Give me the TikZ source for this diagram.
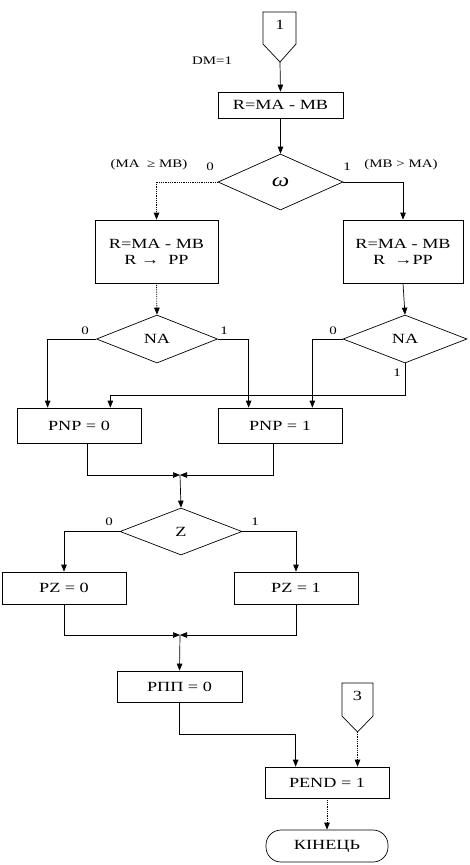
\documentclass[tikz,border=0pt]{standalone}
\usepackage{fontspec}
\setmainfont{Liberation Serif}[FakeStretch=1.3]
\usetikzlibrary{shapes.geometric,arrows.meta}
\tikzset{
  every node/.style={font=\fontsize{14}{16}\selectfont, inner sep=0pt},
  procbox/.style={draw, rectangle, line width=0.7pt, align=center},
  decis/.style={draw, diamond, line width=0.7pt, aspect=2.2},
  termbox/.style={draw, rectangle, rounded corners=15pt, line width=0.7pt},
  lbl/.style={font=\fontsize{11.5}{13}\selectfont},
  flow/.style={line width=0.7pt, -{Triangle[length=7pt,width=5.5pt]}},
  dflow/.style={line width=0.8pt, densely dotted, -{Triangle[length=7pt,width=5.5pt]}},
  conn/.style={draw, line width=0.7pt}
}
\begin{document}
\begin{tikzpicture}[x=1pt,y=-1pt]
\useasboundingbox (0,0) rectangle (470,865);

% connector 1
\draw[conn] (263,12) -- (296,12) -- (296,44) -- (280,62) -- (263,44) -- cycle;
\node (c1) at (280,25) {1};
\coordinate (c1tip) at (280,62);
\node[lbl] (dm) at (212,61) {DM=1};

\node[procbox, minimum width=125pt, minimum height=26pt] (b1) at (280.5,105) {R=MA - MB};

\node[decis, minimum width=125pt, minimum height=56pt] (w) at (280.5,182)
  {\fontsize{19}{19}\selectfont\textit{ω}};
\node[lbl] (lw1) at (149,165) {(MA \ ≥ MB)};
\node[lbl] (lw0) at (210,167) {0};
\node[lbl] (lw2) at (347,167) {1};
\node[lbl] (lw3) at (401,165) {(MB > MA)};

\node[procbox, minimum width=123pt, minimum height=63pt] (bL) at (156.5,251.5)
  {R=MA - MB\\R → \ PP};
\node[procbox, minimum width=120pt, minimum height=63pt] (bR) at (403,251.5)
  {R=MA - MB\\R \ →PP};

\node[decis, minimum width=121pt, minimum height=48pt] (naL) at (157,339) {NA};
\node[decis, minimum width=124pt, minimum height=48pt] (naR) at (405,339) {NA};
\node[lbl] (l1) at (85,331) {0};
\node[lbl] (l2) at (224,331) {1};
\node[lbl] (l3) at (333,331) {0};
\node[lbl] (l4) at (397,373) {1};

\node[procbox, minimum width=124pt, minimum height=35pt] (p0) at (79,425.5) {PNP = 0};
\node[procbox, minimum width=124pt, minimum height=35pt] (p1) at (280,425.5) {PNP = 1};

\coordinate (m1) at (180,475);

\node[decis, minimum width=122pt, minimum height=47pt] (z) at (181,531.5) {Z};
\node[lbl] (l5) at (109,522) {0};
\node[lbl] (l6) at (255,522) {1};

\node[procbox, minimum width=124pt, minimum height=32pt] (pz0) at (64,588) {PZ = 0};
\node[procbox, minimum width=124pt, minimum height=32pt] (pz1) at (296,588) {PZ = 1};

\coordinate (m2) at (180,635);

\node[procbox, minimum width=125pt, minimum height=31pt] (rpp) at (179.5,686.5) {PПП = 0};

% connector 3
\draw[conn] (342,683) -- (373,683) -- (373,716) -- (357.5,732) -- (342,716) -- cycle;
\node (c3) at (357.5,696) {3};
\coordinate (c3tip) at (357.5,732);

\node[procbox, minimum width=124pt, minimum height=31pt] (pend) at (327,782.5) {PEND = 1};
\node[termbox, minimum width=122pt, minimum height=32pt] (end) at (327,846) {КІНЕЦЬ};

% connectors
\draw[flow] (c1tip) -- (b1.north);
\draw[flow] (b1.south) -- (w.north);
\draw[dflow] (w.west) -| (bL.north);
\draw[flow] (w.east) -| (bR.north);
\draw[dflow] (bL.south) -- (naL.north);
\draw[flow] (bR.south) -- (naR.north);

\draw[flow] (naL.west) -| ([xshift=31pt]p0.north west);
\draw[flow] (naL.east) -| ([xshift=31pt]p1.north west);
\draw[flow] (naR.west) -| ([xshift=-30pt]p1.north east);
\draw[flow] (naR.south) -- ([yshift=-32pt]naR.south) -| ([xshift=-31pt]p0.north east);

\draw[flow] ([xshift=8pt]p0.south) |- (m1);
\draw[flow] ([xshift=-7pt]p1.south) |- (m1);
\draw[flow] (m1) -- (z.north);

\draw[flow] (z.west) -| (pz0.north);
\draw[flow] (z.east) -| (pz1.north);

\draw[flow] (pz0.south) |- (m2);
\draw[flow] (pz1.south) |- (m2);
\draw[flow] (m2) -- (rpp.north);

\draw[flow] (rpp.south) -- ([yshift=-32pt]rpp.south) -| ([xshift=31pt]pend.north west);
\draw[dflow] (c3tip) -- (c3tip |- pend.north);
\draw[dflow] (pend.south) -- (end.north);
\end{tikzpicture}
\end{document}
